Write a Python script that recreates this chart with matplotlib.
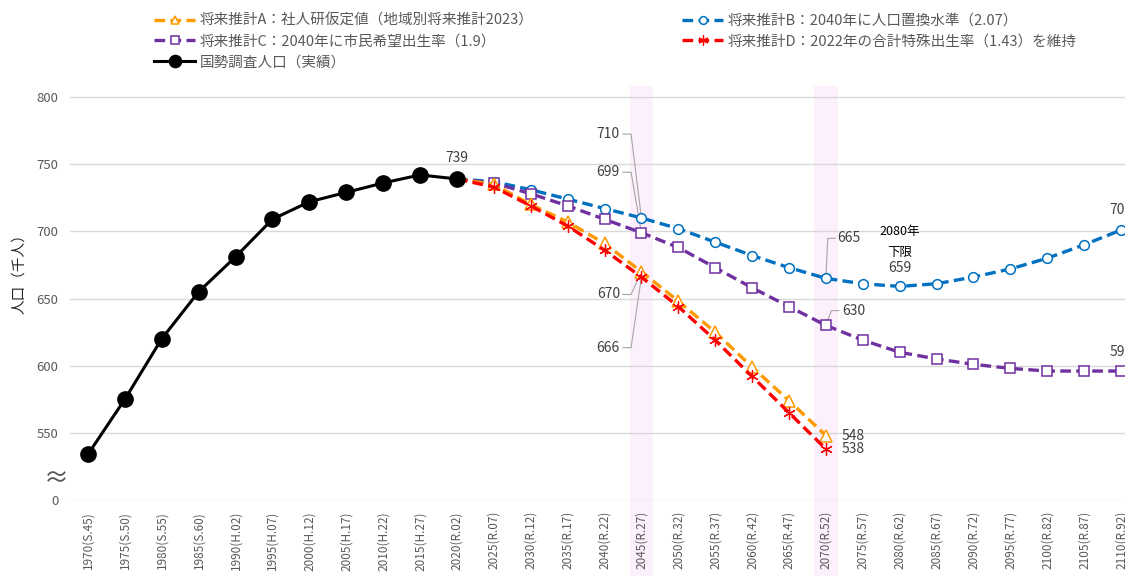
import matplotlib
matplotlib.use('Agg')
import numpy as np
from matplotlib import pyplot as plt

plt.rcParams['font.family'] = ['Noto Sans CJK JP', 'DejaVu Sans']

######################################################################
# Data (population, thousand people)
######################################################################

years = ['1970(S.45)', '1975(S.50)', '1980(S.55)', '1985(S.60)', '1990(H.02)',
         '1995(H.07)', '2000(H.12)', '2005(H.17)', '2010(H.22)', '2015(H.27)',
         '2020(R.02)', '2025(R.07)', '2030(R.12)', '2035(R.17)', '2040(R.22)',
         '2045(R.27)', '2050(R.32)', '2055(R.37)', '2060(R.42)', '2065(R.47)',
         '2070(R.52)', '2075(R.57)', '2080(R.62)', '2085(R.67)', '2090(R.72)',
         '2095(R.77)', '2100(R.82)', '2105(R.87)', '2110(R.92)']

# census, 1970-2020
actual = [534, 575, 620, 655, 681, 709, 722, 729, 736, 742, 739]

# projections from 2020 (first value = 2020 census)
proj_a = [739, 735, 720, 707, 691, 670, 648, 625, 599, 574, 548]
proj_b = [739, 737, 731, 724, 717, 710, 702, 692, 682, 673, 665,
          661, 659, 661, 666, 672, 680, 690, 701]
proj_c = [739, 736, 728, 719, 709, 699, 688, 673, 658, 644, 630,
          619, 610, 605, 601, 598, 596, 596, 596]
proj_d = [739, 733, 719, 704, 686, 666, 644, 619, 592, 565, 538]

legend_labels = ['将来推計A：社人研仮定値（地域別将来推計2023）',
                 '将来推計B：2040年に人口置換水準（2.07）',
                 '将来推計C：2040年に市民希望出生率（1.9）',
                 '将来推計D：2022年の合計特殊出生率（1.43）を維持',
                 '国勢調査人口（実績）']

y_ticks = [500, 550, 600, 650, 700, 750, 800]
y_ticklabels = ['0', '550', '600', '650', '700', '750', '800']

######################################################################
# Plot
######################################################################

GRAY = '#595959'
LEAD = '#a6a6a6'

fig = plt.figure(figsize=(11.25, 5.76), dpi=100)
ax = fig.add_axes([69.5 / 1125, 76 / 576, 1070 / 1125, 414 / 576])

x_act = np.arange(len(actual))
x_a = np.arange(len(proj_a)) + 10
x_b = np.arange(len(proj_b)) + 10
x_c = np.arange(len(proj_c)) + 10
x_d = np.arange(len(proj_d)) + 10

# highlight 2045 / 2070
for yr in ['2045(R.27)', '2070(R.52)']:
    i = years.index(yr)
    ax.axvspan(i - 0.32, i + 0.32, ymin=-0.19, ymax=1.0, color='#fcf0fc',
               zorder=0, clip_on=False, lw=0)

dash = (0, (3.2, 1.6))
ln_b, = ax.plot(x_b, proj_b, color='#0070C0', lw=2.4, ls=dash, marker='o', ms=7,
                mfc='white', mec='#0070C0', mew=1.1, markevery=range(1, len(proj_b)), zorder=3)
ln_c, = ax.plot(x_c, proj_c, color='#7030A0', lw=2.4, ls=dash, marker='s', ms=7,
                mfc='white', mec='#7030A0', mew=1.1, markevery=range(1, len(proj_c)), zorder=3)
ln_a, = ax.plot(x_a, proj_a, color='#FF9900', lw=2.4, ls=dash, marker='^', ms=8,
                mfc='white', mec='#FF9900', mew=1.1, markevery=range(1, len(proj_a)), zorder=4)
ln_d, = ax.plot(x_d, proj_d, color='#FF0000', lw=2.4, ls=dash, marker=(6, 2, 0), ms=9,
                mec='#FF0000', mew=0.9, markevery=range(1, len(proj_d)), zorder=4)
ln_act, = ax.plot(x_act, actual, color='black', lw=2.2, marker='o', ms=11, zorder=5)

ax.set_xlim(-0.5, len(years) - 0.5)
ax.set_ylim(500, 808.2)
ax.set_xticks(np.arange(len(years)))
ax.set_xticklabels(years, rotation=90, fontsize=8.5, color=GRAY)
ax.set_yticks(y_ticks)
ax.set_yticklabels(y_ticklabels, fontsize=9.5, color=GRAY)
ax.tick_params(axis='both', length=0)
ax.tick_params(axis='x', pad=8)
ax.tick_params(axis='y', pad=8)
ax.grid(axis='y', color='#d9d9d9', lw=1)
ax.set_axisbelow(True)
for s in ax.spines.values():
    s.set_visible(False)

ax.set_ylabel('人口（千人）', fontsize=10.5, color='#262626')
ax.yaxis.set_label_coords(-0.041, 0.556)
fig.text(56 / 1125, 1 - 479 / 576, '≈', fontsize=18, color=GRAY, ha='center', va='center')

# value labels
def leader(ax, pts, text, tx, ty, ha='right'):
    xs, ys = zip(*pts)
    ax.plot(xs, ys, color=LEAD, lw=0.8, zorder=2, clip_on=False)
    ax.text(tx, ty, text, fontsize=10, color='#404040', ha=ha, va='center')

i45 = years.index('2045(R.27)')
i70 = years.index('2070(R.52)')
leader(ax, [(14.5, 772.4), (14.72, 772.4), (i45, proj_b[i45 - 10])], '710', 14.42, 772.4)
leader(ax, [(14.5, 744.0), (14.72, 744.0), (i45, proj_c[i45 - 10])], '699', 14.42, 744.0)
leader(ax, [(14.5, 653.0), (14.72, 653.0), (i45, proj_a[i45 - 10])], '670', 14.42, 653.0)
leader(ax, [(14.5, 613.4), (14.72, 613.4), (i45, proj_d[i45 - 10])], '666', 14.42, 613.4)
leader(ax, [(i70, proj_b[i70 - 10]), (i70 + 0.05, 694.8), (i70 + 0.25, 694.8)], '665', i70 + 0.32, 694.8, ha='left')
leader(ax, [(i70, proj_c[i70 - 10]), (i70 + 0.15, 641.0), (i70 + 0.35, 641.0)], '630', i70 + 0.45, 641.0, ha='left')

ax.annotate(str(actual[-1]), (x_act[-1], actual[-1]), xytext=(0, 10), textcoords='offset points',
            ha='center', va='bottom', fontsize=10, color='#404040')
ax.annotate(str(proj_a[-1]), (x_a[-1], proj_a[-1]), xytext=(11, 0), textcoords='offset points',
            ha='left', va='center', fontsize=10, color='#404040')
ax.annotate(str(proj_d[-1]), (x_d[-1], proj_d[-1]), xytext=(11, 0), textcoords='offset points',
            ha='left', va='center', fontsize=10, color='#404040')
ax.annotate(str(proj_b[-1]), (x_b[-1], proj_b[-1]), xytext=(0, 9), textcoords='offset points',
            ha='center', va='bottom', fontsize=10, color='#404040')
ax.annotate(str(proj_c[-1]), (x_c[-1], proj_c[-1]), xytext=(0, 9), textcoords='offset points',
            ha='center', va='bottom', fontsize=10, color='#404040')

i80 = years.index('2080(R.62)')
ax.text(i80, 700, '2080年', fontsize=9, color='black', ha='center', va='center')
ax.text(i80, 684.3, '下限', fontsize=9, color='black', ha='center', va='center')
ax.annotate(str(proj_b[i80 - 10]), (i80, proj_b[i80 - 10]), xytext=(0, 8), textcoords='offset points',
            ha='center', va='bottom', fontsize=10, color='#404040')

# legend
handles = [ln_a, ln_c, ln_act, ln_b, ln_d]
labels = [legend_labels[0], legend_labels[2], legend_labels[4], legend_labels[1], legend_labels[3]]
fig.legend(handles, labels, loc='upper left', bbox_to_anchor=(0.125, 1.0), ncol=2,
           frameon=False, fontsize=10.5, handlelength=2.8, handletextpad=0.3,
           labelspacing=0.45, columnspacing=10.2, labelcolor=GRAY, borderaxespad=0.55,
           markerscale=0.8)

fig.savefig('out.png', dpi=100)
